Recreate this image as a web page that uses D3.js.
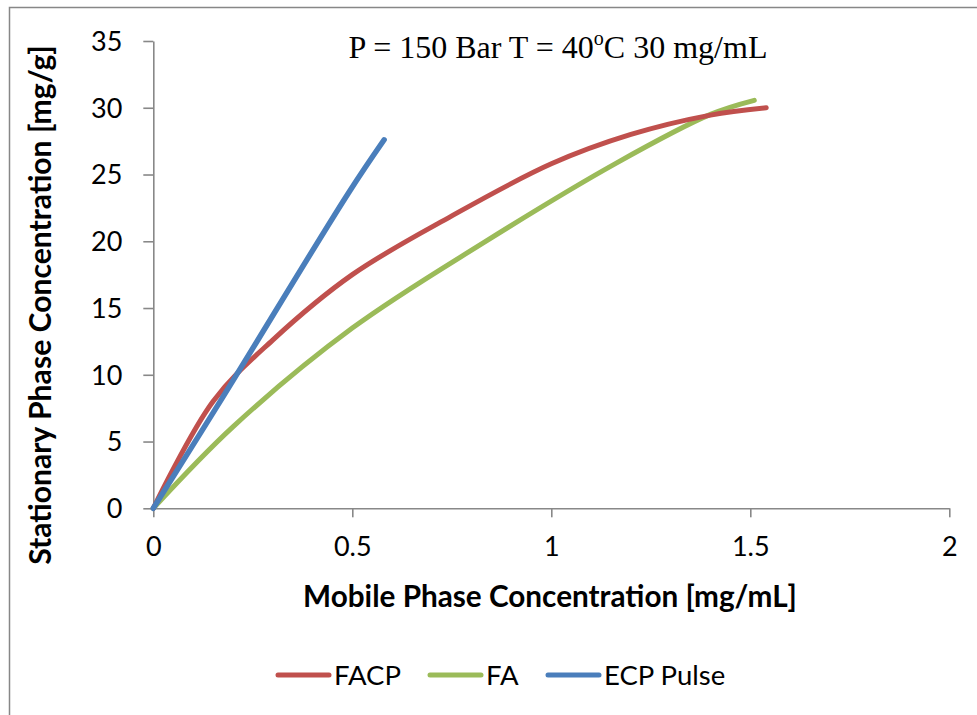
<!DOCTYPE html>
<html><head><meta charset="utf-8">
<script src="https://cdn.jsdelivr.net/npm/d3@7"></script>
<style>body{margin:0;background:#fff}svg{display:block}</style>
</head><body>
<svg id="c" width="977" height="715"></svg>
<script>
// ---- data ----
const facpX = [0, 0.15, 0.3, 0.5, 0.75, 1.0, 1.2, 1.4, 1.54];
const facpY = [0, 8.0, 12.6, 17.5, 21.9, 25.8, 28.0, 29.45, 30.0];
const faX = [0, 0.2, 0.5, 0.83, 1.16, 1.4, 1.51];
const faY = [0, 6.1, 13.5, 19.9, 25.8, 29.5, 30.55];
const ecpX = [0, 0.17, 0.49, 0.58];
const ecpY = [0, 8.1, 23.6, 27.6];
const seriesNames = ["FACP", "FA", "ECP Pulse"];
const xTicks = [0, 0.5, 1, 1.5, 2];
const yTicks = [0, 5, 10, 15, 20, 25, 30, 35];
const titleMain = "P = 150 Bar T = 40";
const titleSup = "o";
const titleEnd = "C 30 mg/mL";
const xTitle = "Mobile Phase Concentration [mg/mL]";
const yTitle = "Stationary Phase Concentration [mg/g]";

const colors = ["#C0504D", "#9BBB59", "#4A7EBB"];
const svg = d3.select("#c");
const font = "Lato, 'Open Sans', sans-serif";

// chart border
svg.append("rect").attr("x", 9.5).attr("y", 7.5).attr("width", 1000).attr("height", 1000)
  .attr("fill", "none").attr("stroke", "#878787").attr("stroke-width", 1.5);

const x = d3.scaleLinear().domain([0, 2]).range([153.3, 949.3]);
const y = d3.scaleLinear().domain([0, 35]).range([508.3, 41.0]);

const axisColor = "#888888";
const gx = svg.append("g").attr("transform", `translate(0,${y(0)})`)
  .call(d3.axisBottom(x).tickValues(xTicks).tickFormat(d3.format("")).tickSizeOuter(0).tickSizeInner(9).tickPadding(20));
const gy = svg.append("g").attr("transform", `translate(${x(0)},0)`)
  .call(d3.axisLeft(y).tickValues(yTicks).tickSizeOuter(0).tickSizeInner(10).tickPadding(21));
[gx, gy].forEach(g => {
  g.select(".domain").attr("stroke", axisColor).attr("stroke-width", 1.6);
  g.selectAll(".tick line").attr("stroke", axisColor).attr("stroke-width", 1.6);
  g.selectAll(".tick text").attr("fill", "#000").style("font-family", font).style("font-size", "27px");
});
gx.selectAll(".tick text").attr("dy", "0.71em");
gy.selectAll(".tick text").attr("dy", "0.35em");

const mk = (xs, ys) => xs.map((v, i) => [v, ys[i]]);
const data = [mk(facpX, facpY), mk(faX, faY), mk(ecpX, ecpY)];
const line = d3.line().x(d => x(d[0])).y(d => y(d[1])).curve(d3.curveCatmullRom.alpha(0.5));
[1, 0, 2].forEach(i => {
  svg.append("path").attr("d", line(data[i])).attr("fill", "none")
    .attr("stroke", colors[i]).attr("stroke-width", i === 2 ? 5.5 : 5)
    .attr("stroke-linecap", "round").attr("stroke-linejoin", "round");
});

function fitText(sel, target) {
  const n = sel.node();
  const w = n.getComputedTextLength();
  const fs = parseFloat(sel.style("font-size"));
  sel.style("font-size", (fs * target / w) + "px");
}

// title
const t = svg.append("text").attr("x", 558).attr("y", 58).attr("text-anchor", "middle")
  .style("font-family", "'Liberation Serif', 'Times New Roman', serif").style("font-size", "32px").attr("fill", "#000");
t.append("tspan").text(titleMain);
t.append("tspan").attr("dy", -13).style("font-size", "20px").text(titleSup);
t.append("tspan").attr("dy", 13).text(titleEnd);

// axis titles
const xt = svg.append("text").attr("x", 550).attr("y", 607).attr("text-anchor", "middle")
  .style("font-family", font).style("font-weight", "bold").style("font-size", "26px").attr("fill", "#000").text(xTitle);
fitText(xt, 494);
const yt = svg.append("text").attr("transform", "translate(51,305) rotate(-90)").attr("text-anchor", "middle")
  .style("font-family", font).style("font-weight", "bold").style("font-size", "26px").attr("fill", "#000").text(yTitle);
fitText(yt, 520);

// legend
const legX = [276, 428, 546];
const legY = 675;
seriesNames.forEach((name, i) => {
  svg.append("line").attr("x1", legX[i] + 2).attr("x2", legX[i] + 53).attr("y1", legY).attr("y2", legY)
    .attr("stroke", colors[i]).attr("stroke-width", 5).attr("stroke-linecap", "round");
  svg.append("text").attr("x", legX[i] + 58).attr("y", legY).attr("dy", "0.36em")
    .style("font-family", font).style("font-size", "27.5px").attr("fill", "#000").text(name);
});
</script>
</body></html>
